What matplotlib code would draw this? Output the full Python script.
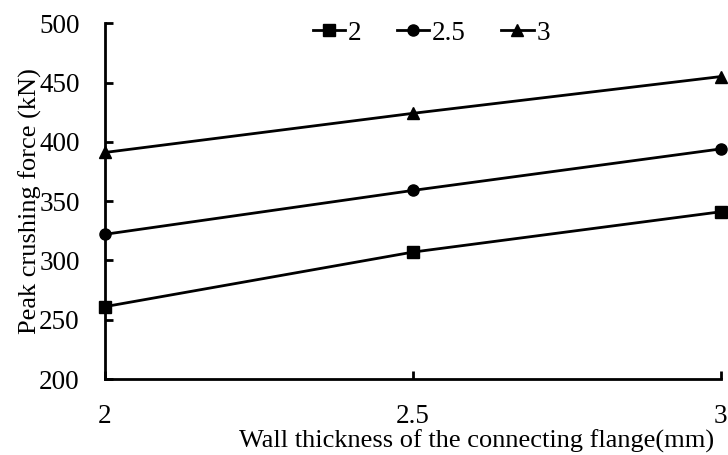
import matplotlib
matplotlib.use("Agg")
import matplotlib.pyplot as plt

plt.rcParams['font.family'] = ['Liberation Serif', 'DejaVu Serif']

thickness = [2, 2.5, 3]
series_names = ['2', '2.5', '3']
force_2 = [261, 307, 341]
force_25 = [322, 359, 394]
force_3 = [391, 424, 455]
markers = ['s', 'o', '^']

fig = plt.figure(figsize=(7.28, 4.55), dpi=100)
ax = fig.add_axes([0.144, 0.167, 0.846, 0.782])

for name, vals, m in zip(series_names, [force_2, force_25, force_3], markers):
    ax.plot(thickness, vals, color='black', lw=2, marker=m, markersize=8,
            label=name, clip_on=False)

ax.set_xlim(2, 3)
ax.set_ylim(200, 500)
ax.set_xticks([2, 2.5, 3])
ax.set_xticklabels(['2', '2.5', '3'])
ax.set_yticks(range(200, 501, 50))

for s in ['top', 'right']:
    ax.spines[s].set_visible(False)
for s in ['left', 'bottom']:
    ax.spines[s].set_linewidth(2)

ax.tick_params(axis='both', direction='in', length=6, width=2, labelsize=19.5)
ax.tick_params(axis='x', pad=18)
ax.tick_params(axis='y', pad=18)

ax.set_ylabel('Peak crushing force (kN)', fontsize=19)
ax.yaxis.set_label_coords(-0.102, 0.5)
ax.set_xlabel('Wall thickness of the connecting flange(mm)', fontsize=19)
ax.xaxis.set_label_coords(0.603, -0.143)

ax.legend(loc='upper center', bbox_to_anchor=(0.53, 1.075), ncol=3,
          frameon=False, fontsize=19.5, handlelength=1.2, handletextpad=0.1,
          columnspacing=1.3)

fig.savefig('out.png', dpi=100)
